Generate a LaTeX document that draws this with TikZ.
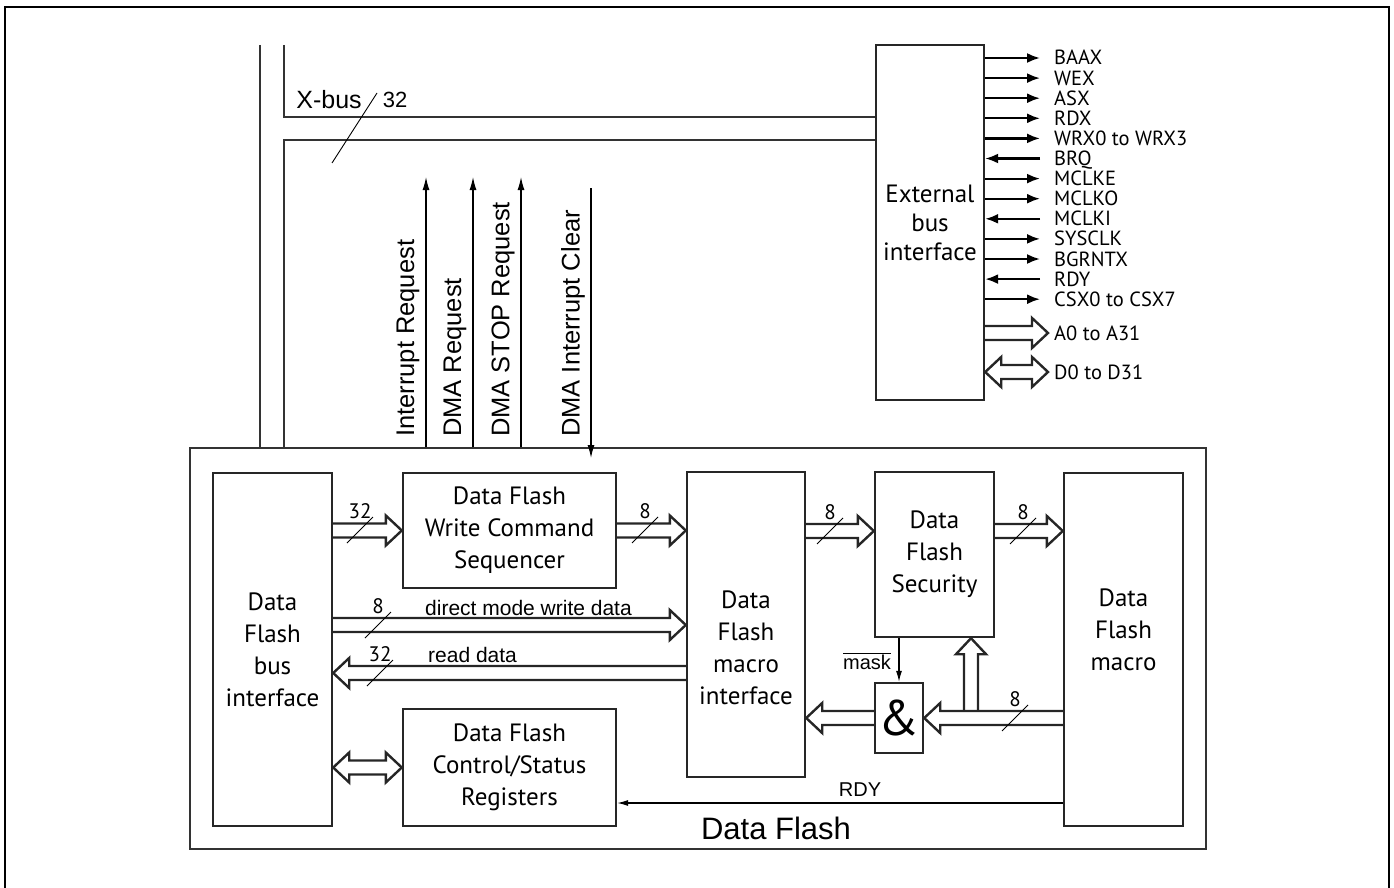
\documentclass[tikz,border=0pt]{standalone}
\usepackage{fontspec}
\setmainfont{PT Sans}
\newfontfamily\arialfont{Liberation Sans}
\usetikzlibrary{arrows.meta, calc}

% hollow bus arrow: #1 start, #2 tip
\newcommand{\busarrow}[2]{%
  \coordinate (ba-s) at (#1);
  \coordinate (ba-t) at (#2);
  \coordinate (ba-h) at ($(ba-t)!16pt!(ba-s)$);
  \draw[busline] ($(ba-s)!7pt!90:(ba-t)$) -- ($(ba-h)!7pt!-90:(ba-s)$)
    -- ($(ba-h)!15pt!-90:(ba-s)$) -- (ba-t) -- ($(ba-h)!15pt!90:(ba-s)$)
    -- ($(ba-h)!7pt!90:(ba-s)$) -- ($(ba-s)!7pt!-90:(ba-t)$);
}
% hollow bus arrow with two heads
\newcommand{\busarrowboth}[2]{%
  \coordinate (ba-s) at (#1);
  \coordinate (ba-t) at (#2);
  \coordinate (ba-h) at ($(ba-t)!16pt!(ba-s)$);
  \coordinate (ba-g) at ($(ba-s)!16pt!(ba-t)$);
  \draw[busline] ($(ba-g)!7pt!90:(ba-t)$) -- ($(ba-h)!7pt!-90:(ba-s)$)
    -- ($(ba-h)!15pt!-90:(ba-s)$) -- (ba-t) -- ($(ba-h)!15pt!90:(ba-s)$)
    -- ($(ba-h)!7pt!90:(ba-s)$) -- ($(ba-g)!7pt!-90:(ba-t)$)
    -- ($(ba-g)!15pt!-90:(ba-t)$) -- (ba-s) -- ($(ba-g)!15pt!90:(ba-t)$) -- cycle;
}
% bus width slash: #1 name, #2 centre, #3 width
\newcommand{\bwidth}[3]{%
  \draw[slashline] ($(#2)+(-13,13)$) -- ($(#2)+(13,-13)$);
  \node[bwlabel] (#1) at ($(#2)+(0,-19)$) {#3};
}

\begin{document}
\begin{tikzpicture}[x=1pt, y=-1pt]
    % --- STYLES ---
    \tikzset{
        pageframe/.style={draw=black, line width=1.5pt},
        outerbox/.style={draw=black!80, line width=1.5pt, inner sep=0pt},
        box/.style={draw=black!85, line width=2.4pt, inner sep=0pt, align=center, font=\fontsize{25}{32}\selectfont},
        boxtext/.style={inner sep=0pt, align=center, font=\fontsize{25}{32}\selectfont},
        busline/.style={draw=black!85, line width=2.4pt, line join=miter},
        xbus/.style={draw=black!80, line width=1.4pt},
        slashline/.style={draw=black, line width=0.9pt},
        bwlabel/.style={inner sep=0pt, font=\fontsize{21}{21}\selectfont},
        reqarrow/.style={-{Latex[length=13pt, width=7pt]}, line width=1.2pt},
        thinarrow/.style={-{Latex[length=11pt, width=6pt]}, line width=1.1pt},
        sigarrow/.style={-{Latex[length=13pt, width=10pt]}, line width=2.2pt},
        signame/.style={anchor=west, inner sep=0pt, text height=14pt, text depth=0pt, font=\fontsize{20.5}{20.5}\selectfont},
        vlabel/.style={rotate=90, anchor=west, inner sep=0pt, font=\arialfont\fontsize{25.5}{25.5}\selectfont},
        midlabel/.style={inner sep=0pt, anchor=west, font=\arialfont\fontsize{21}{21}\selectfont},
        xbuslabel/.style={inner sep=0pt, font=\arialfont\fontsize{25}{25}\selectfont},
        biglabel/.style={inner sep=0pt, font=\arialfont\fontsize{31}{31}\selectfont}
    }
    \useasboundingbox (0,0) rectangle (1394,888);
    \draw[pageframe] (5,888) -- (5,7) -- (1389,7) -- (1389,888);

    % --- BLOCKS ---
    \node[outerbox, minimum width=1016pt, minimum height=401pt] (df) at (698,648.5) {};
    \node[box, minimum width=108pt, minimum height=355pt, font=\fontsize{25}{29}\selectfont] (ebi) at (930,222.5) {External\\bus\\interface};
    \node[box, minimum width=119pt, minimum height=353pt] (bif) at (272.5,649.5) {Data\\Flash\\bus\\interface};
    \node[box, minimum width=213pt, minimum height=115pt] (wcs) at (509.5,530.5) {Data Flash\\Write Command\\Sequencer};
    \node[box, minimum width=213pt, minimum height=117pt] (csr) at (509.5,767.5) {Data Flash\\Control/Status\\Registers};
    \node[box, minimum width=118pt, minimum height=305pt] (dfmi) at (746,624.5) {};
    \node[boxtext] (dfmi-t) at (746,647.5) {Data\\Flash\\macro\\interface};
    \node[box, minimum width=119pt, minimum height=165pt] (sec) at (934.5,554.5) {Data\\Flash\\Security};
    \node[box, minimum width=119pt, minimum height=353pt] (dfm) at (1123.5,649.5) {};
    \node[boxtext] (dfm-t) at (1123.5,630) {Data\\Flash\\macro};
    \node[box, minimum width=48pt, minimum height=70pt, font=\fontsize{50}{50}\selectfont] (andg) at (899,718) {\&};
    \node[biglabel] (dflabel) at (776,828) {Data Flash};

    % --- X-BUS ---
    \coordinate (xb-a) at (260,45);
    \coordinate (xb-b) at (284,45);
    \draw[xbus] (xb-a) -- (xb-a |- df.north);
    \draw[xbus] (xb-b) |- (ebi.west |- 0,117);
    \draw[xbus] (xb-b |- df.north) |- (ebi.west |- 0,140);
    \draw[slashline] (332,163) -- (377,93);
    \node[xbuslabel] (xbus-l) at (329,100) {X-bus};
    \node[xbuslabel, font=\arialfont\fontsize{22}{22}\selectfont] (xbus-w) at (395,100) {32};

    % requests to the CPU side
    \foreach \xa/\name/\txt in {426/irq/Interrupt Request, 473/dmarq/DMA Request, 521/dmastop/DMA STOP Request} {
        \coordinate (\name) at (\xa,177);
        \draw[reqarrow] (\name |- df.north) -- (\name);
        \node[vlabel] (\name-l) at (\xa-18,437) {\txt};
    }
    \coordinate (dmaclr) at (591,188);
    \coordinate (dmaclr-end) at (591,458);
    \draw[reqarrow] (dmaclr) -- (dmaclr-end);
    \node[vlabel] (dmaclr-l) at (573,437) {DMA Interrupt Clear};

    % --- EXTERNAL BUS SIGNALS ---
    \foreach \i/\sig/\dir in {0/BAAX/1, 1/WEX/1, 2/ASX/1, 3/RDX/1, 4/WRX0 to WRX3/1, 5/BRQ/0, 6/MCLKE/1,
                              7/MCLKO/1, 8/MCLKI/0, 9/SYSCLK/1, 10/BGRNTX/1, 11/RDY/0, 12/CSX0 to CSX7/1} {
        \node[signame] (sig-\i) at (1054,58+20.1*\i) {\sig};
        \ifnum\dir=1
            \draw[sigarrow, shorten >=14pt] (ebi.east |- sig-\i.west) -- (sig-\i.west);
        \else
            \draw[sigarrow, shorten <=14pt] (sig-\i.west) -- (ebi.east |- sig-\i.west);
        \fi
    }
    \node[signame] (abus) at (1054,333) {A0 to A31};
    \node[signame] (dbus) at (1054,372) {D0 to D31};
    \busarrow{ebi.east |- abus.west}{$(abus.west)+(-6,0)$}
    \busarrowboth{ebi.east |- dbus.west}{$(dbus.west)+(-6,0)$}

    % --- DATA FLASH BUSES ---
    \busarrow{bif.east |- wcs.west}{wcs.west}
    \bwidth{w-cmd}{360,530}{32}
    \busarrow{wcs.east}{wcs.east -| dfmi.west}
    \bwidth{w-seq}{645,530}{8}
    \busarrow{bif.east |- 0,625}{dfmi.west |- 0,625}
    \bwidth{w-dir}{378,625}{8}
    \node[midlabel] (dir-l) at (425,608) {direct mode write data};
    \busarrow{dfmi.west |- 0,673}{bif.east |- 0,673}
    \bwidth{w-rd}{380,673}{32}
    \node[midlabel] (rd-l) at (428,655) {read data};
    \busarrowboth{bif.east |- csr.west}{csr.west}
    \busarrow{dfmi.east |- 0,531}{sec.west |- 0,531}
    \bwidth{w-sec}{830,531}{8}
    \busarrow{sec.east |- 0,531}{dfm.west |- 0,531}
    \bwidth{w-mac}{1023,531}{8}
    \busarrow{dfm.west |- andg.east}{andg.east}
    \bwidth{w-and}{1015,718}{8}
    \busarrow{andg.west}{andg.west -| dfmi.east}
    \coordinate (brnch) at (971,711);
    \busarrow{brnch}{sec.south -| brnch}

    % mask and ready
    \draw[thinarrow] (sec.south -| andg.north) -- (andg.north);
    \node[midlabel, font=\arialfont\fontsize{20}{20}\selectfont] (mask-l) at (843,661) {$\overline{\hbox{mask}}$};
    \draw[thinarrow] (dfm.west |- 0,803) -- (csr.east |- 0,803);
    \node[midlabel, anchor=center, font=\arialfont\fontsize{20}{20}\selectfont] (rdy-l) at (860,790) {RDY};
\end{tikzpicture}
\end{document}
